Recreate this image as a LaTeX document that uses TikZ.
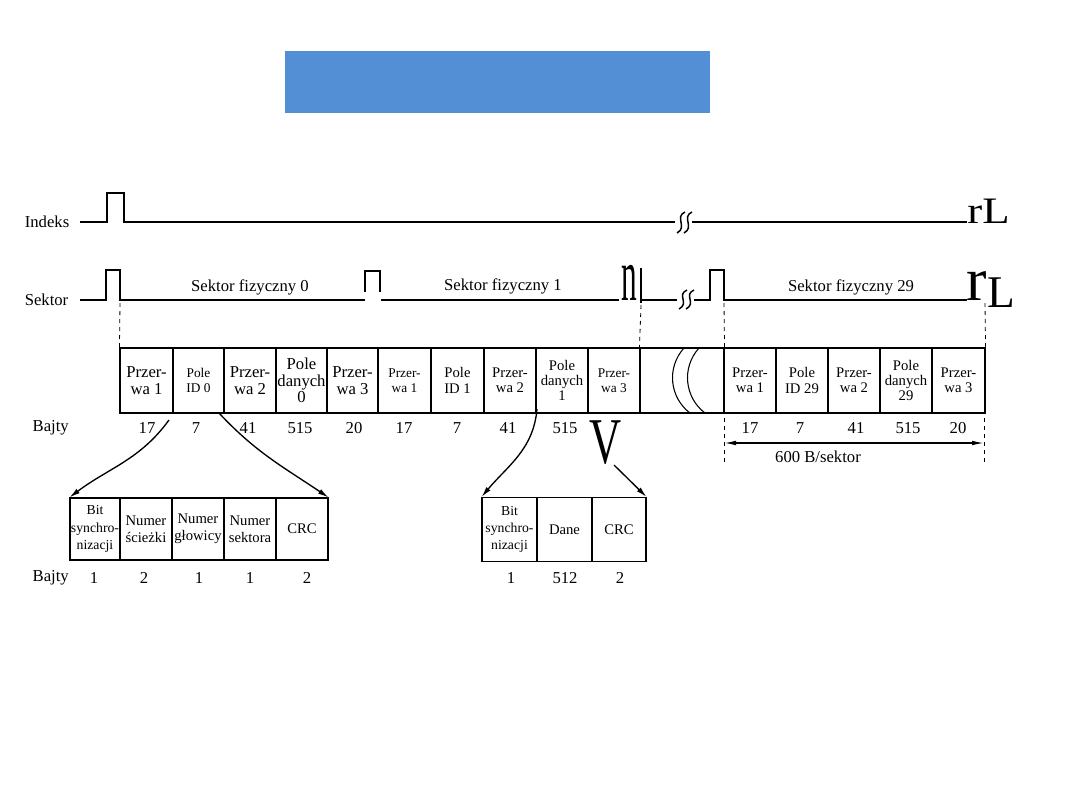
\documentclass[tikz,border=0pt]{standalone}
\usepackage{fontspec}
\setmainfont{Liberation Serif}
\usetikzlibrary{arrows.meta}
\newcommand\duzy{\fontsize{12.5}{12.5}\selectfont}
\newcommand\sredni{\fontsize{11}{11.5}\selectfont}
\newcommand\maly{\fontsize{10}{11}\selectfont}
\newcommand\dolny{\fontsize{11}{13}\selectfont}
\newcommand\dolnymaly{\fontsize{10.3}{13}\selectfont}
\definecolor{tytul}{RGB}{83,143,213}
\tikzset{
  sygnal/.style={line width=1.1pt},
  ramka/.style={draw, line width=0.8pt, inner sep=0pt, align=center},
  prowadnica/.style={dashed, line width=0.6pt},
  strzalka/.style={-{Latex[length=8pt,width=4pt]}, line width=1pt},
  opis/.style={font=\fontsize{12.5}{14}\selectfont},
}
\begin{document}
\begin{tikzpicture}[x=0.75pt,y=-0.75pt]
    \useasboundingbox (0,0) rectangle (1080,810);
    % Pasek tytulowy
    \fill[tytul] (285,51) rectangle (710,113);

    % Sygnal indeksu
    \node[opis, anchor=east] (indeks) at (74,222) {Indeks};
    \draw[sygnal] (80,222) -- (107,222) -- (107,193) -- (124,193) -- (124,222) -- (675,222);
    \foreach \o in {0,7}
    \draw[sygnal] (685+\o,212) .. controls (674+\o,217) and (688+\o,227) .. (677+\o,233);
    \draw[sygnal] (692,222) -- (967,222);
    \node[font=\fontsize{28}{28}\selectfont, anchor=base west, inner sep=0pt, xscale=1.2] (koniec1) at (967,223) {rL};

    % Sygnal sektora
    \node[opis, anchor=east] (sektor) at (73,300) {Sektor};
    \draw[sygnal] (80,300) -- (106,300) -- (106,270) -- (120,270) -- (120,300) -- (365,300);
    \draw[line width=0.8pt] (365,292) -- (365,271) -- (380,271) -- (380,292);
    \draw[sygnal] (381,300) -- (619,300);
    \node[font=\fontsize{56}{56}\selectfont, anchor=base, inner sep=0pt, xscale=0.42] (n1) at (629,300) {n};
    \draw[sygnal] (641,268) -- (641,303);
    \draw[sygnal] (641,300) -- (677,300);
    \foreach \o in {0,7}
    \draw[sygnal] (687+\o,290) .. controls (676+\o,295) and (690+\o,303) .. (679+\o,309);
    \draw[sygnal] (694,300) -- (710,300) -- (710,270) -- (724,270) -- (724,300) -- (967,300);
    \node[font=\fontsize{46}{46}\selectfont, anchor=base west, inner sep=0pt] (r2) at (966,300) {r};
    \node[font=\fontsize{34}{34}\selectfont, anchor=base west, inner sep=0pt] (l2) at (987,307) {L};
    \node[opis] (s0) at (250,287) {Sektor fizyczny 0};
    \node[opis] (s1) at (503,286) {Sektor fizyczny 1};
    \node[opis] (s29) at (851,287) {Sektor fizyczny 29};

    % Pola sektorow
    \foreach \xa/\xb/\f/\nazwa/\tekst in {
      120/173/\duzy/p1/{Przer-\\wa 1}, 173/224/\maly/id0/{Pole\\ID 0},
      224/276/\duzy/p2/{Przer-\\wa 2}, 276/327/\duzy/d0/{Pole\\danych\\0},
      327/378/\duzy/p3/{Przer-\\wa 3}, 378/431/\maly/p1b/{Przer-\\wa 1},
      431/484/\sredni/id1/{Pole\\ID 1}, 484/536/\sredni/p2b/{Przer-\\wa 2},
      536/588/\sredni/d1/{Pole\\danych\\1}, 588/640/\maly/p3b/{Przer-\\wa 3},
      640/724/\sredni/luka/{},
      724/776/\sredni/p1c/{Przer-\\wa 1}, 776/828/\sredni/id29/{Pole\\ID 29},
      828/880/\sredni/p2c/{Przer-\\wa 2}, 880/932/\sredni/d29/{Pole\\danych\\29},
      932/985/\sredni/p3c/{Przer-\\wa 3}}
    \node[ramka, font=\f, minimum width={(\xb-\xa)*0.75pt}, minimum height=48.75pt] (\nazwa) at ({(\xa+\xb)/2},380.5) {\tekst};
    % Przerwanie
    \foreach \o in {0,15}
    \draw[line width=0.8pt] (684+\o,348) .. controls (666+\o,368) and (670+\o,398) .. (690+\o,413);

    % Linie pomocnicze
    \draw[prowadnica] (120,303) -- (p1.north west);
    \draw[prowadnica] (641,305) -- (luka.north west);
    \draw[prowadnica] (724,303) -- (luka.north east);
    \draw[prowadnica] (985,303) -- (p3c.north east);

    % Bajty
    \node[opis, anchor=west] (bajty1) at (28,428) {Bajty};
    \foreach \x/\n in {147/17,196/7,248/41,300/515,354/20,404/17,457/7,508/41,565/515,
                       750/17,800/7,856/41,908/515,958/20}
    \node[opis] (b\x) at (\x,428) {\n};
    \node[font=\fontsize{49}{49}\selectfont, anchor=base, inner sep=0pt, xscale=0.68] (v1) at (606,463) {V};

    % 600 B/sektor
    \draw[prowadnica] (724,418) -- (724,462);
    \draw[prowadnica] (984,418) -- (984,462);
    \coordinate (m1) at (724,443);
    \coordinate (m2) at (984,443);
    \draw[{Latex[length=9pt,width=3.5pt]}-{Latex[length=9pt,width=3.5pt]}, line width=1pt] (m1) -- (m2);
    \node[opis] (rozmiar) at (818,457) {600 B/sektor};

    % Pole ID
    \foreach \xa/\xb/\f/\nazwa/\tekst in {
      70/120/\dolnymaly/bit/{Bit\\synchro-\\nizacji}, 120/172/\dolny/sciezka/{Numer\\ścieżki},
      172/224/\dolny/glowica/{Numer\\głowicy}, 224/276/\dolny/nsektor/{Numer\\sektora},
      276/328/\dolny/crc/{CRC}}
    \node[ramka, font=\f, minimum width={(\xb-\xa)*0.75pt}, minimum height=46.5pt] (\nazwa) at ({(\xa+\xb)/2},529) {\tekst};
    % Pole danych
    \foreach \xa/\xb/\f/\nazwa/\tekst in {
      482/537/\dolnymaly/bitd/{Bit\\synchro-\\nizacji}, 537/592/\dolny/dane/{Dane},
      592/646/\dolny/crcd/{CRC}}
    \node[ramka, font=\f, minimum width={(\xb-\xa)*0.75pt}, minimum height=48pt] (\nazwa) at ({(\xa+\xb)/2},529.5) {\tekst};

    \node[opis, anchor=west] (bajty2) at (28,578) {Bajty};
    \foreach \x/\n in {94/1,144/2,199/1,250/1,307/2,511/1,565/512,620/2}
    \node[opis] (c\x) at (\x,578) {\n};

    % Strzalki
    \coordinate (a1) at (169,420);
    \coordinate (a2) at (219,413);
    \coordinate (a3) at (537,409);
    \coordinate (a4) at (614,465);
    \draw[strzalka] (a1) to[out=234,in=37] (bit.north west);
    \draw[strzalka] (a2) to[out=-47,in=146] (crc.north east);
    \draw[strzalka] (a3) to[out=265,in=50] (bitd.north west);
    \draw[strzalka] (a4) -- (crcd.north east);
\end{tikzpicture}
\end{document}
